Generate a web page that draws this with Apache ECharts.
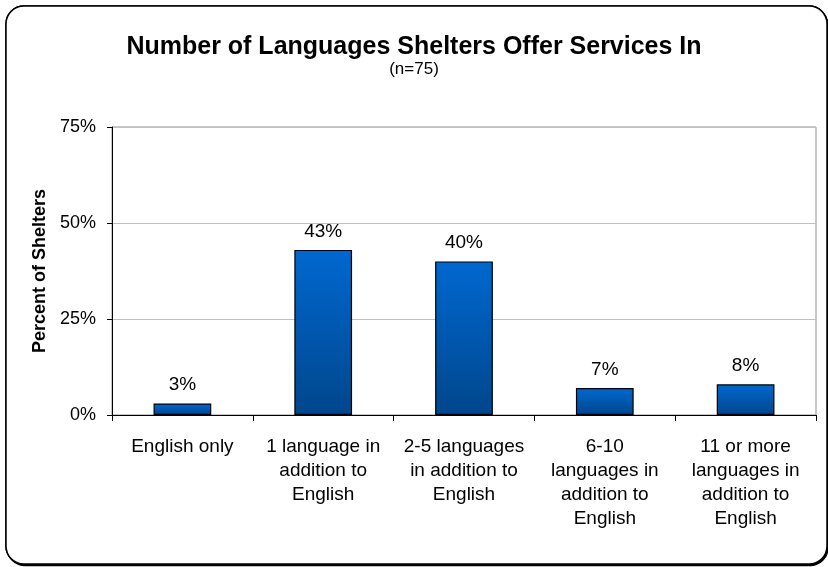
<!DOCTYPE html>
<html>
<head>
<meta charset="utf-8">
<script src="https://cdn.jsdelivr.net/npm/echarts@6/dist/echarts.min.js"></script>
<style>
  html, body { margin: 0; padding: 0; background: #fff; }
  #chart { width: 828px; height: 567px; }
</style>
</head>
<body>
<div id="chart"></div>
<script>
// Survey categories and share of shelters (percent)
const categories = [
  'English only',
  '1 language in\naddition to\nEnglish',
  '2-5 languages\nin addition to\nEnglish',
  '6-10\nlanguages in\naddition to\nEnglish',
  '11 or more\nlanguages in\naddition to\nEnglish'
];
const percentShelters = [3, 43, 40, 7, 8];
const yTicks = [0, 25, 50, 75];

const FONT = '"Liberation Sans", Arial, sans-serif';

const chart = echarts.init(document.getElementById('chart'));
chart.setOption({
  backgroundColor: '#ffffff',
  animation: false,
  graphic: [
    {
      type: 'rect', z: -10, silent: true,
      shape: { x: 6, y: 6, width: 821, height: 558, r: 18 },
      style: { fill: '#ffffff', stroke: '#000', lineWidth: 1.5,
               shadowColor: '#000', shadowOffsetX: 1, shadowOffsetY: 1.5, shadowBlur: 0 }
    },
    {
      type: 'rect', z: -9, silent: true,
      shape: { x: 6, y: 6, width: 821, height: 558, r: 18 },
      style: { fill: '#ffffff', stroke: '#000', lineWidth: 1.5 }
    },
    {
      type: 'rect', z: 0, silent: true,
      shape: { x: 112, y: 127, width: 704, height: 288 },
      style: { fill: 'none', stroke: '#909090', lineWidth: 1 }
    }
  ],
  title: {
    text: 'Number of Languages Shelters Offer Services In',
    subtext: '(n=75)',
    left: 'center',
    top: 30,
    itemGap: 1,
    textStyle: { fontFamily: FONT, fontSize: 25, fontWeight: 'bold', color: '#000' },
    subtextStyle: { fontFamily: FONT, fontSize: 17, color: '#000' }
  },
  grid: { left: 112, right: 12, top: 127, bottom: 152 },
  xAxis: {
    type: 'category',
    data: categories,
    boundaryGap: true,
    axisLine: { lineStyle: { color: '#000', width: 1 } },
    axisTick: { show: true, alignWithLabel: false, length: 6, lineStyle: { color: '#000' } },
    axisLabel: {
      interval: 0, margin: 20, color: '#000',
      fontFamily: FONT, fontSize: 19, lineHeight: 24
    }
  },
  yAxis: {
    type: 'value',
    min: 0, max: 75, interval: 25,
    name: 'Percent of Shelters',
    nameLocation: 'middle',
    nameGap: 63,
    nameTextStyle: { fontFamily: FONT, fontSize: 18, fontWeight: 'bold', color: '#000' },
    axisLine: { show: true, lineStyle: { color: '#000', width: 1 } },
    axisTick: { show: true, length: 5, lineStyle: { color: '#000' } },
    axisLabel: {
      color: '#000', fontFamily: FONT, fontSize: 18, margin: 16,
      formatter: v => yTicks.includes(v) ? v + '%' : ''
    },
    splitLine: { show: true, lineStyle: { color: '#c0c0c0', width: 1 } }
  },
  series: [{
    type: 'bar',
    data: percentShelters,
    barWidth: '41%',
    itemStyle: {
      color: new echarts.graphic.LinearGradient(0, 0, 0, 1, [
        { offset: 0, color: '#0068d0' },
        { offset: 1, color: '#00468c' }
      ]),
      borderColor: '#000',
      borderWidth: 1.2
    },
    label: {
      show: true, position: 'top', distance: 9,
      color: '#000', fontFamily: FONT, fontSize: 19,
      formatter: p => p.value + '%'
    }
  }]
});
</script>
</body>
</html>
